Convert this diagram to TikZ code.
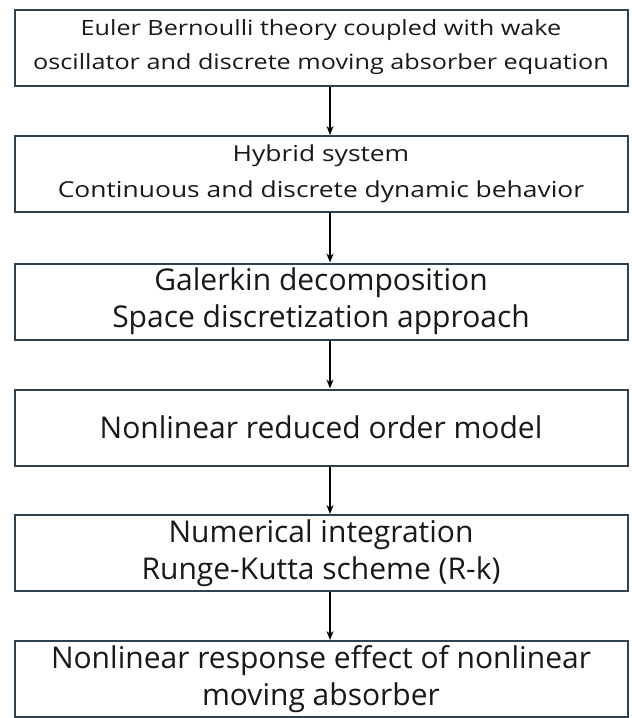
\documentclass[tikz,border=0pt]{standalone}
\usepackage{fontspec}
\setmainfont{Open Sans}
\newfontfamily\widesans[FakeStretch=1.2]{Open Sans}
\usetikzlibrary{arrows.meta}
\definecolor{boxline}{RGB}{47,66,82}
\definecolor{txt}{RGB}{25,25,25}
\tikzset{
  x=1pt,y=1pt,
  box/.style={draw=boxline, line width=2pt, minimum width=613pt, minimum height=76pt, inner sep=0pt, align=center, text=txt, fill=white},
  smallA/.style={font=\widesans\fontsize{21}{34}\selectfont},
  smallB/.style={font=\widesans\fontsize{22}{36}\selectfont},
  big/.style={font=\fontsize{30}{37}\selectfont},
  arr/.style={draw=black, line width=1.3pt, -{Stealth[length=9pt,width=7pt]}}
}
\begin{document}
\begin{tikzpicture}
\useasboundingbox (0,0) rectangle (632,-718);
\fill[white] (0,0) rectangle (632,-718);
\node[box, smallA] (b1) at (321,-47.5) {Euler Bernoulli theory coupled with wake\\oscillator and discrete moving absorber equation};
\node[box, smallB] (b2) at (321,-174) {Hybrid system\\Continuous and discrete dynamic behavior};
\node[box, big] (b3) at (321,-301.5) {Galerkin decomposition\\Space discretization approach};
\node[box, big] (b4) at (321,-427.5) {Nonlinear reduced order model};
\node[box, big] (b5) at (321,-553) {Numerical integration\\Runge-Kutta scheme (R-k)};
\node[box, big] (b6) at (321,-679) {Nonlinear response effect of nonlinear\\moving absorber};
\draw[arr] ([xshift=9pt]b1.south) -- ([xshift=9pt]b2.north);
\draw[arr] ([xshift=9pt]b2.south) -- ([xshift=9pt]b3.north);
\draw[arr] ([xshift=9pt]b3.south) -- ([xshift=9pt]b4.north);
\draw[arr] ([xshift=9pt]b4.south) -- ([xshift=9pt]b5.north);
\draw[arr] ([xshift=9pt]b5.south) -- ([xshift=9pt]b6.north);
\end{tikzpicture}
\end{document}
